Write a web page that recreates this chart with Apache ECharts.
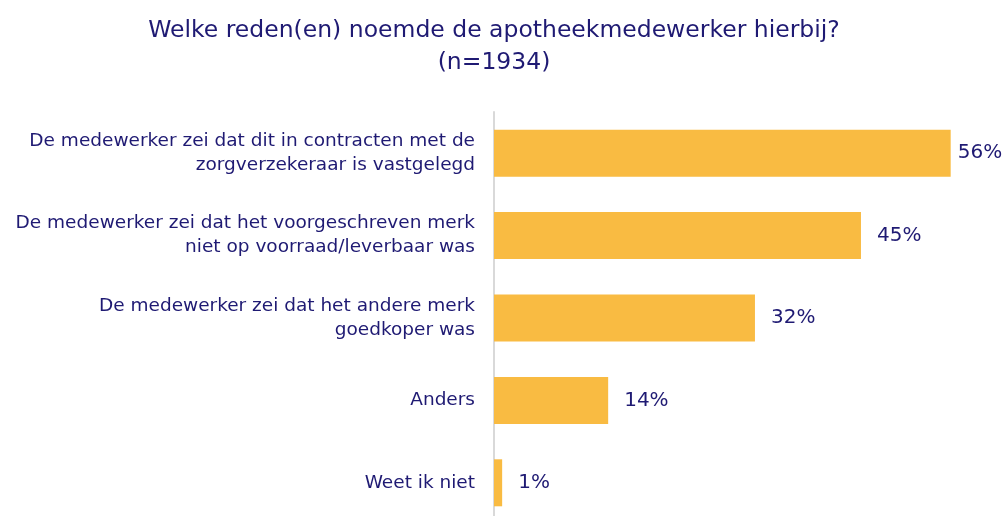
<!DOCTYPE html>
<html>
<head>
<meta charset="utf-8">
<script src="https://cdn.jsdelivr.net/npm/echarts@6/dist/echarts.min.js"></script>
<style>
  html, body { margin: 0; padding: 0; background: #fff; }
  #chart { width: 1006px; height: 516px; }
</style>
</head>
<body>
<div id="chart"></div>
<script>
// categories top to bottom
var categories = [
  "De medewerker zei dat dit in contracten met de\nzorgverzekeraar is vastgelegd",
  "De medewerker zei dat het voorgeschreven merk\nniet op voorraad/leverbaar was",
  "De medewerker zei dat het andere merk\ngoedkoper was",
  "Anders",
  "Weet ik niet"
];
var values = [56, 45, 32, 14, 1];

var navy = "#1f1a73";
var myChart = echarts.init(document.getElementById("chart"));

var barData = values.map(function(v, i) {
  // the longest bar has its label pulled in closer, like the original
  return { value: v, label: { distance: i === 0 ? 7 : 16 } };
});

var option = {
  animation: false,
  title: {
    text: "Welke reden(en) noemde de apotheekmedewerker hierbij?\n(n=1934)",
    left: 489,
    textAlign: "center",
    top: 10,
    textStyle: {
      color: navy,
      fontFamily: "DejaVu Sans",
      fontWeight: "normal",
      fontSize: 23.5,
      lineHeight: 32
    }
  },
  grid: {
    left: 494,
    width: 489.3,
    top: 112,
    height: 412,
    outerBoundsMode: "none"
  },
  xAxis: {
    type: "value",
    min: 0,
    max: 60,
    show: false
  },
  yAxis: {
    type: "category",
    inverse: true,
    data: categories,
    axisTick: { show: false },
    axisLine: {
      lineStyle: { color: "#d9d9d9", width: 2 }
    },
    axisLabel: {
      color: navy,
      fontFamily: "DejaVu Sans",
      fontSize: 18.5,
      lineHeight: 24,
      margin: 19,
      align: "right"
    }
  },
  series: [
    {
      type: "bar",
      data: barData,
      barWidth: 47,
      itemStyle: { color: "#f9bb42" },
      label: {
        show: true,
        position: "right",
        formatter: "{c}%",
        color: navy,
        fontFamily: "DejaVu Sans",
        fontSize: 20
      }
    }
  ]
};
myChart.setOption(option);
</script>
</body>
</html>
